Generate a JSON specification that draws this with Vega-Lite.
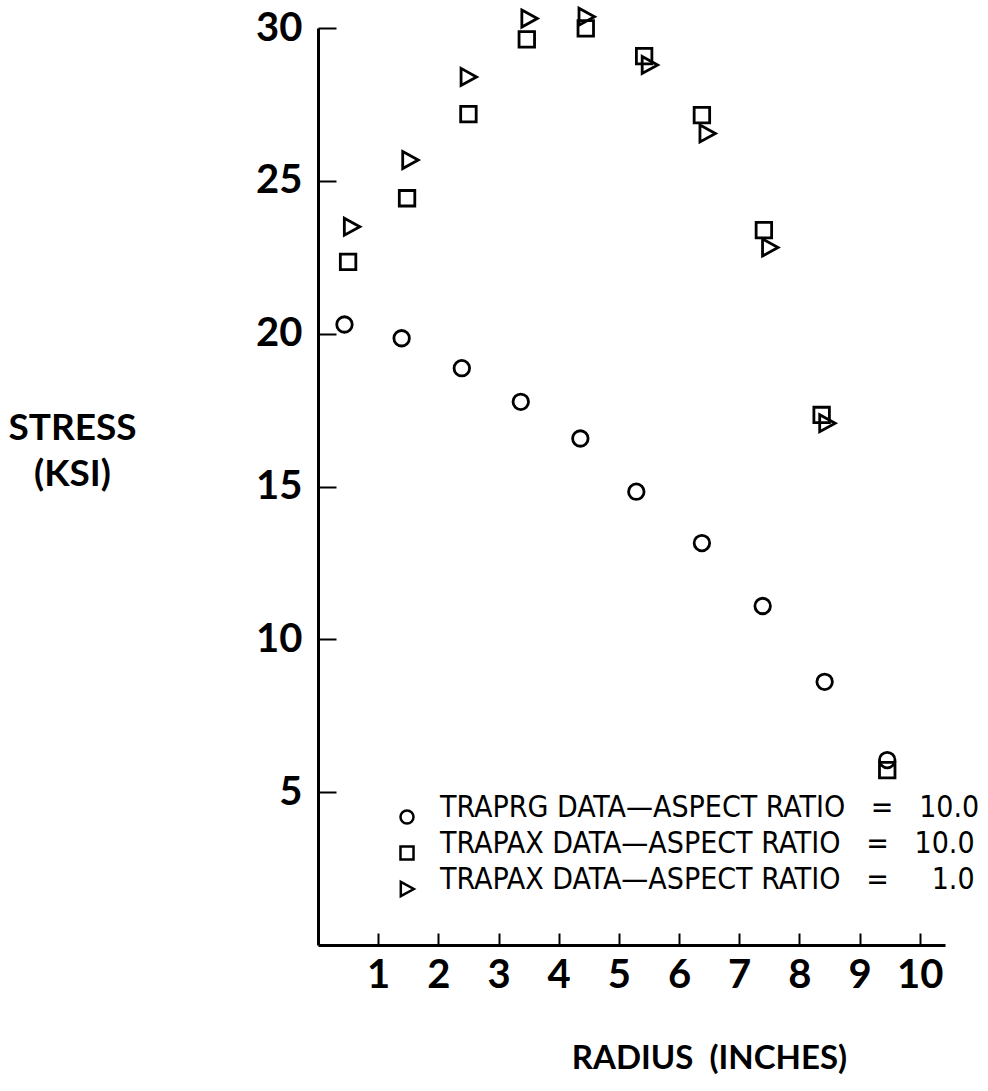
{
  "$schema": "https://vega.github.io/schema/vega-lite/v6.json",
  "width": 627,
  "height": 917,
  "autosize": {"type": "none"},
  "padding": {"left": 318, "top": 28, "right": 43, "bottom": 146},
  "background": "white",
  "config": {
    "view": {"stroke": null},
    "font": "Lato"
  },
  "data": {
    "values": [
      {"series": "TRAPRG DATA—ASPECT RATIO\u00a0\u00a0\u00a0=\u00a0\u00a0\u00a010.0", "r": 0.44, "s": 20.30},
      {"series": "TRAPRG DATA—ASPECT RATIO\u00a0\u00a0\u00a0=\u00a0\u00a0\u00a010.0", "r": 1.39, "s": 19.85},
      {"series": "TRAPRG DATA—ASPECT RATIO\u00a0\u00a0\u00a0=\u00a0\u00a0\u00a010.0", "r": 2.39, "s": 18.87},
      {"series": "TRAPRG DATA—ASPECT RATIO\u00a0\u00a0\u00a0=\u00a0\u00a0\u00a010.0", "r": 3.37, "s": 17.77},
      {"series": "TRAPRG DATA—ASPECT RATIO\u00a0\u00a0\u00a0=\u00a0\u00a0\u00a010.0", "r": 4.36, "s": 16.57},
      {"series": "TRAPRG DATA—ASPECT RATIO\u00a0\u00a0\u00a0=\u00a0\u00a0\u00a010.0", "r": 5.29, "s": 14.83},
      {"series": "TRAPRG DATA—ASPECT RATIO\u00a0\u00a0\u00a0=\u00a0\u00a0\u00a010.0", "r": 6.38, "s": 13.15},
      {"series": "TRAPRG DATA—ASPECT RATIO\u00a0\u00a0\u00a0=\u00a0\u00a0\u00a010.0", "r": 7.39, "s": 11.09},
      {"series": "TRAPRG DATA—ASPECT RATIO\u00a0\u00a0\u00a0=\u00a0\u00a0\u00a010.0", "r": 8.42, "s": 8.61},
      {"series": "TRAPRG DATA—ASPECT RATIO\u00a0\u00a0\u00a0=\u00a0\u00a0\u00a010.0", "r": 9.46, "s": 6.05},
      {"series": "TRAPAX DATA—ASPECT RATIO\u00a0\u00a0\u00a0=\u00a0\u00a0\u00a010.0", "r": 0.50, "s": 22.35},
      {"series": "TRAPAX DATA—ASPECT RATIO\u00a0\u00a0\u00a0=\u00a0\u00a0\u00a010.0", "r": 1.48, "s": 24.43},
      {"series": "TRAPAX DATA—ASPECT RATIO\u00a0\u00a0\u00a0=\u00a0\u00a0\u00a010.0", "r": 2.50, "s": 27.18},
      {"series": "TRAPAX DATA—ASPECT RATIO\u00a0\u00a0\u00a0=\u00a0\u00a0\u00a010.0", "r": 3.47, "s": 29.63},
      {"series": "TRAPAX DATA—ASPECT RATIO\u00a0\u00a0\u00a0=\u00a0\u00a0\u00a010.0", "r": 4.45, "s": 29.99},
      {"series": "TRAPAX DATA—ASPECT RATIO\u00a0\u00a0\u00a0=\u00a0\u00a0\u00a010.0", "r": 5.42, "s": 29.08},
      {"series": "TRAPAX DATA—ASPECT RATIO\u00a0\u00a0\u00a0=\u00a0\u00a0\u00a010.0", "r": 6.38, "s": 27.15},
      {"series": "TRAPAX DATA—ASPECT RATIO\u00a0\u00a0\u00a0=\u00a0\u00a0\u00a010.0", "r": 7.41, "s": 23.39},
      {"series": "TRAPAX DATA—ASPECT RATIO\u00a0\u00a0\u00a0=\u00a0\u00a0\u00a010.0", "r": 8.37, "s": 17.34},
      {"series": "TRAPAX DATA—ASPECT RATIO\u00a0\u00a0\u00a0=\u00a0\u00a0\u00a010.0", "r": 9.46, "s": 5.72},
      {"series": "TRAPAX DATA—ASPECT RATIO\u00a0\u00a0\u00a0=\u00a0\u00a0\u00a0\u00a0\u00a01.0", "r": 0.56, "s": 23.50},
      {"series": "TRAPAX DATA—ASPECT RATIO\u00a0\u00a0\u00a0=\u00a0\u00a0\u00a0\u00a0\u00a01.0", "r": 1.53, "s": 25.68},
      {"series": "TRAPAX DATA—ASPECT RATIO\u00a0\u00a0\u00a0=\u00a0\u00a0\u00a0\u00a0\u00a01.0", "r": 2.50, "s": 28.40},
      {"series": "TRAPAX DATA—ASPECT RATIO\u00a0\u00a0\u00a0=\u00a0\u00a0\u00a0\u00a0\u00a01.0", "r": 3.51, "s": 30.31},
      {"series": "TRAPAX DATA—ASPECT RATIO\u00a0\u00a0\u00a0=\u00a0\u00a0\u00a0\u00a0\u00a01.0", "r": 4.46, "s": 30.37},
      {"series": "TRAPAX DATA—ASPECT RATIO\u00a0\u00a0\u00a0=\u00a0\u00a0\u00a0\u00a0\u00a01.0", "r": 5.51, "s": 28.79},
      {"series": "TRAPAX DATA—ASPECT RATIO\u00a0\u00a0\u00a0=\u00a0\u00a0\u00a0\u00a0\u00a01.0", "r": 6.47, "s": 26.55},
      {"series": "TRAPAX DATA—ASPECT RATIO\u00a0\u00a0\u00a0=\u00a0\u00a0\u00a0\u00a0\u00a01.0", "r": 7.51, "s": 22.82},
      {"series": "TRAPAX DATA—ASPECT RATIO\u00a0\u00a0\u00a0=\u00a0\u00a0\u00a0\u00a0\u00a01.0", "r": 8.46, "s": 17.07}
    ]
  },
  "mark": {"type": "point", "filled": false, "stroke": "black", "strokeWidth": 2.8, "size": 240, "opacity": 1, "clip": false},
  "encoding": {
    "x": {
      "field": "r",
      "type": "quantitative",
      "scale": {"domain": [0, 10.42], "nice": false, "zero": false},
      "axis": {
        "values": [1, 2, 3, 4, 5, 6, 7, 8, 9, 10],
        "grid": false,
        "domainColor": "black",
        "domainWidth": 3,
        "tickColor": "black",
        "tickWidth": 2,
        "tickSize": -12,
        "labelFont": "Lato",
        "labelFontSize": 40,
        "labelFontWeight": "bold",
        "labelColor": "black",
        "labelPadding": 22,
        "labelFlush": false,
        "title": "RADIUS\u00a0\u00a0(INCHES)",
        "titleFont": "Lato",
        "titleFontSize": 33,
        "titleFontWeight": "bold",
        "titleColor": "black",
        "titleX": 391,
        "titleY": 113,
        "titleAlign": "center",
        "titleBaseline": "middle",
        "titleAnchor": null
      }
    },
    "y": {
      "field": "s",
      "type": "quantitative",
      "scale": {"domain": [0, 30], "nice": false, "zero": false},
      "axis": {
        "values": [5, 10, 15, 20, 25, 30],
        "grid": false,
        "domainColor": "black",
        "domainWidth": 3,
        "tickColor": "black",
        "tickWidth": 2,
        "tickSize": -18,
        "labelFont": "Lato",
        "labelFontSize": 40,
        "labelFontWeight": "bold",
        "labelColor": "black",
        "labelPadding": 34,
        "labelFlush": false,
        "title": ["STRESS", "(KSI)"],
        "titleFont": "Lato",
        "titleFontSize": 37,
        "titleFontWeight": "bold",
        "titleColor": "black",
        "titleAngle": 0,
        "titleX": -246,
        "titleY": 400,
        "titleAlign": "center",
        "titleBaseline": "middle",
        "titleLineHeight": 46,
        "titleAnchor": null
      }
    },
    "shape": {
      "field": "series",
      "type": "nominal",
      "scale": {
        "domain": [
          "TRAPRG DATA—ASPECT RATIO\u00a0\u00a0\u00a0=\u00a0\u00a0\u00a010.0",
          "TRAPAX DATA—ASPECT RATIO\u00a0\u00a0\u00a0=\u00a0\u00a0\u00a010.0",
          "TRAPAX DATA—ASPECT RATIO\u00a0\u00a0\u00a0=\u00a0\u00a0\u00a0\u00a0\u00a01.0"
        ],
        "range": ["circle", "square", "M-0.95,-1.1L1.05,0L-0.95,1.1Z"]
      },
      "legend": {
        "title": null,
        "orient": "none",
        "legendX": 74,
        "legendY": 774,
        "padding": 0,
        "symbolSize": 170,
        "symbolStrokeColor": "black",
        "symbolFillColor": "transparent",
        "symbolStrokeWidth": 2.5,
        "symbolOpacity": 1,
        "labelFont": "DejaVu Sans Condensed",
        "labelFontSize": 30,
        "labelColor": "black",
        "labelFontWeight": "normal",
        "labelOffset": 18,
        "labelLimit": 800,
        "labelBaseline": "alphabetic",
        "rowPadding": 0
      }
    }
  }
}
